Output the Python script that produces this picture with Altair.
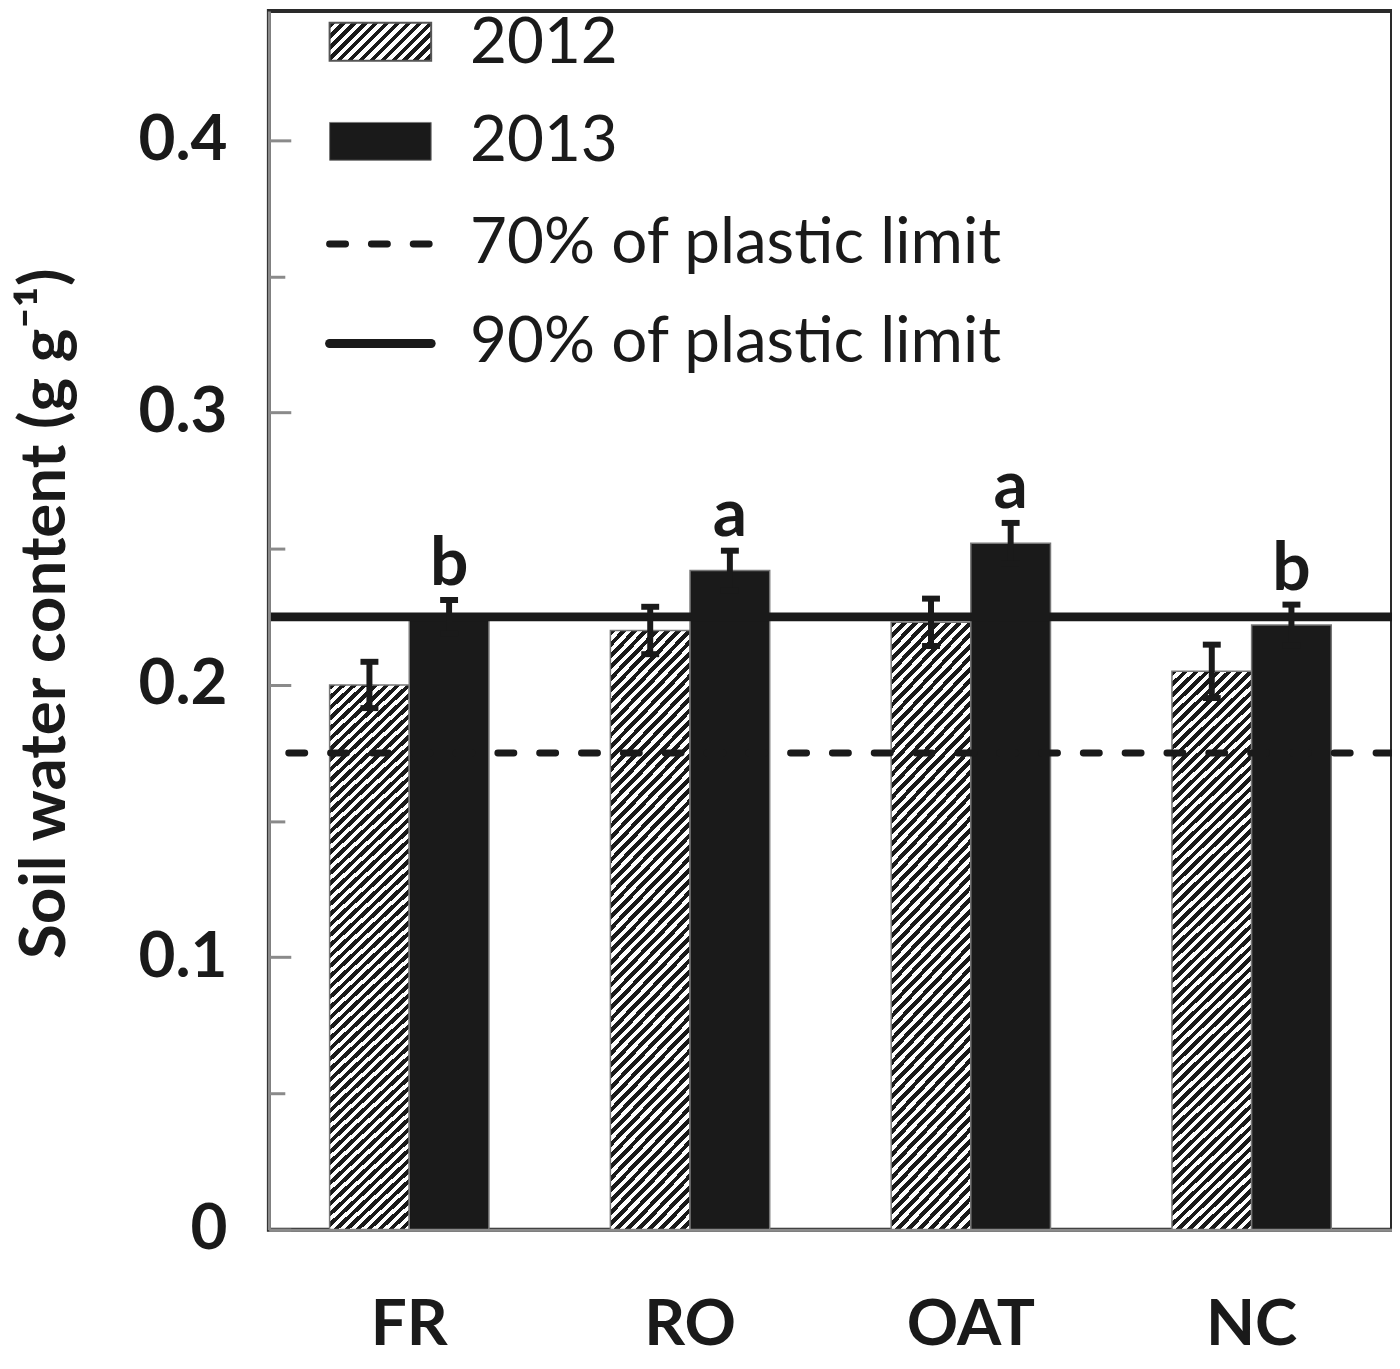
import altair as alt
import pandas as pd

# ---- data ----
categories = ["FR", "RO", "OAT", "NC"]
years = ["2012", "2013"]
mean_2012 = [0.200, 0.220, 0.223, 0.205]
mean_2013 = [0.225, 0.242, 0.252, 0.222]
se_2012 = [0.0085, 0.0087, 0.0087, 0.0098]
se_2013 = [0.0062, 0.0073, 0.0075, 0.0075]
letters_2013 = ["b", "a", "a", "b"]
limit_labels = ["70% of plastic limit", "90% of plastic limit"]
limit_values = [0.175, 0.225]
y_major = [0, 0.1, 0.2, 0.3, 0.4]
y_minor = [0.05, 0.15, 0.25, 0.35]

rows = []
for i, c in enumerate(categories):
    rows.append({"cat": c, "year": "2012", "mean": mean_2012[i], "se": se_2012[i],
                 "lo": mean_2012[i] - se_2012[i], "hi": mean_2012[i] + se_2012[i], "letter": ""})
    rows.append({"cat": c, "year": "2013", "mean": mean_2013[i], "se": se_2013[i],
                 "lo": mean_2013[i] - se_2013[i], "hi": mean_2013[i] + se_2013[i], "letter": letters_2013[i]})
df = pd.DataFrame(rows)
lines_df = pd.DataFrame({"label": limit_labels, "value": limit_values})

BLACK = "#1a1a1a"
GRAY = "#8a8a8a"
FONT = "Lato"

W, H = 1128, 1224
YMAX = 0.4475


def hatch(w0, h0, period, duty=0.52):
    L = w0 + h0
    k = L / (w0 ** 2 + h0 ** 2)
    p = period / L
    stops = []
    i = 0
    while i * p < 1:
        a = i * p
        b = min(a + p * duty, 1)
        c = min(a + p, 1)
        stops += [alt.GradientStop(offset=a, color=BLACK),
                  alt.GradientStop(offset=b, color=BLACK),
                  alt.GradientStop(offset=b, color="#ffffff"),
                  alt.GradientStop(offset=c, color="#ffffff")]
        i += 1
    return alt.LinearGradient(gradient="linear", stops=stops, x1=0, y1=0, x2=w0 * k, y2=h0 * k)


bar_hatch = hatch(80, 580, 11)
legend_hatch = hatch(102, 38, 11)

base = alt.Chart(df)
xenc = alt.X("cat:N", sort=categories, title=None,
             scale=alt.Scale(paddingInner=0.4326, paddingOuter=0.2163),
             axis=alt.Axis(labelAngle=0, labelFont=FONT, labelFontSize=64, labelFontWeight="bold",
                           labelColor=BLACK, labelPadding=64, ticks=False, domainColor=GRAY,
                           domainWidth=3, zindex=1))
xoff = alt.XOffset("year:N", scale=alt.Scale(domain=years, paddingInner=0, paddingOuter=0))
yscale = alt.Scale(domain=[0, YMAX], nice=False, zero=True)

main_axis = alt.Axis(orient="left", values=y_major,
                     labelExpr="datum.value == 0 ? '0' : format(datum.value, '.1f')",
                     labelFont=FONT, labelFontSize=64, labelFontWeight="bold", labelColor=BLACK,
                     labelPadding=64, tickSize={"expr": "-22"}, tickColor=GRAY, tickWidth=3,
                     domainColor=GRAY, domainWidth=3, grid=False, zindex=1,
                     title="Soil water content (g g⁻¹)", titleFont=FONT, titleFontSize=64,
                     titleFontWeight="bold", titleColor=BLACK, titleX=-224, titleY=605,
                     titleBaseline="middle", titleAngle=-90)
minor_axis = alt.Axis(orient="left", values=y_minor, labels=False, domain=False, title=None,
                      grid=False, tickSize={"expr": "-16"}, tickColor=GRAY, tickWidth=3, zindex=1)

bars12 = base.transform_filter("datum.year == '2012'").mark_bar(
    fill=bar_hatch, stroke="#777777", strokeWidth=1.5
).encode(x=xenc, xOffset=xoff, y=alt.Y("mean:Q", scale=yscale, axis=main_axis))

bars13 = base.transform_filter("datum.year == '2013'").mark_bar(
    fill=BLACK, stroke="#777777", strokeWidth=1.5
).encode(x=xenc, xOffset=xoff, y=alt.Y("mean:Q", scale=yscale, axis=None))

dashed = alt.Chart(lines_df).transform_filter("datum.value < 0.2").mark_rule(
    color=BLACK, strokeWidth=7, strokeDash=[16, 26], strokeCap="round"
).encode(y=alt.Y("value:Q", scale=yscale, axis=minor_axis))

solid = alt.Chart(lines_df).transform_filter("datum.value > 0.2").mark_rule(
    color=BLACK, strokeWidth=9
).encode(y=alt.Y("value:Q", scale=yscale, axis=None))

err = base.mark_rule(color=BLACK, strokeWidth=6).encode(
    x=xenc, xOffset=xoff, y=alt.Y("lo:Q", scale=yscale, axis=None), y2="hi:Q")
cap_hi = base.mark_tick(color=BLACK, size=18, thickness=6, opacity=1).encode(
    x=xenc, xOffset=xoff, y=alt.Y("hi:Q", scale=yscale, axis=None))
cap_lo = base.mark_tick(color=BLACK, size=18, thickness=6, opacity=1).encode(
    x=xenc, xOffset=xoff, y=alt.Y("lo:Q", scale=yscale, axis=None))

letters = base.transform_filter("datum.year == '2013'").mark_text(
    font=FONT, fontSize=68, fontWeight="bold", color=BLACK, baseline="alphabetic", dy=-15
).encode(x=xenc, xOffset=xoff, y=alt.Y("hi:Q", scale=yscale, axis=None), text="letter:N")

# ---- legend (inside plot, top-left) ----
one = alt.Data(values=[{"k": 1}])
leg_hatch = alt.Chart(one).mark_rect(fill=legend_hatch, stroke="#555555", strokeWidth=2).encode(
    x=alt.value(61), x2=alt.value(163), y=alt.value(12), y2=alt.value(50))
leg_black = alt.Chart(one).mark_rect(fill=BLACK, stroke="#777777", strokeWidth=1).encode(
    x=alt.value(61), x2=alt.value(163), y=alt.value(112), y2=alt.value(150))
leg_dash = alt.Chart(one).mark_rule(color=BLACK, strokeWidth=7, strokeDash=[16, 26],
                                    strokeCap="round").encode(
    x=alt.value(61), x2=alt.value(163), y=alt.value(234))
leg_solid = alt.Chart(one).mark_rule(color=BLACK, strokeWidth=9, strokeCap="round").encode(
    x=alt.value(61), x2=alt.value(163), y=alt.value(334))

legend_labels = years + limit_labels
legend_y = [33, 132, 234, 334]
leg_text = alt.Chart(pd.DataFrame({"t": legend_labels, "yy": legend_y})).mark_text(
    font=FONT, fontSize=64, color=BLACK, align="left", baseline="middle"
).encode(x=alt.value(202), y=alt.Y("yy:Q", scale=None, axis=None), text="t:N")

chart = alt.layer(
    bars12, bars13, dashed, solid, err, cap_hi, cap_lo, letters,
    leg_hatch, leg_black, leg_dash, leg_solid, leg_text
).resolve_axis(y="independent").properties(
    width=W, height=H,
    autosize=alt.AutoSizeParams(type="none"),
    padding={"left": 262, "top": 0, "right": 0, "bottom": 128},
    background="white",
).configure_view(stroke="#2a2a2a", strokeWidth=4)

chart.save("out.html", embed_options={"renderer": "svg", "actions": False})
